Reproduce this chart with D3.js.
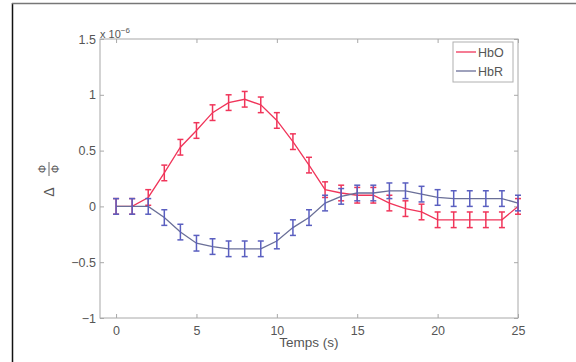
<!DOCTYPE html>
<html><head><meta charset="utf-8">
<script src="https://cdn.jsdelivr.net/npm/d3@7"></script>
<style>body{margin:0;background:#fff}svg{display:block}text{font-family:"Liberation Sans",Arial,sans-serif}</style>
</head><body><svg id="c" width="576" height="362"></svg>
<script>
const times = d3.range(0, 26);
const hbo = [0,0,0.08,0.30,0.53,0.68,0.84,0.93,0.96,0.91,0.77,0.58,0.37,0.15,0.12,0.10,0.10,0.03,-0.02,-0.05,-0.12,-0.12,-0.12,-0.12,-0.12,0.0];
const hbr = [0,0,0,-0.10,-0.23,-0.33,-0.36,-0.38,-0.38,-0.38,-0.31,-0.19,-0.10,0.03,0.09,0.12,0.12,0.14,0.14,0.11,0.08,0.07,0.07,0.07,0.07,0.03];
const errHbo = 0.07, errHbr = 0.07;
const xTicks = [0,5,10,15,20,25];
const yTicks = [-1,-0.5,0,0.5,1,1.5];
const yTickLabels = ["\u22121","\u22120.5","0","0.5","1","1.5"];
const seriesNames = ["HbO","HbR"];
const colors = ["#f0355a","#5a5fc0"];
const lineColors = ["#f0355a","#6a6f98"];

const svg = d3.select("#c");
svg.append("line").attr("x1",12.5).attr("x2",12.5).attr("y1",3).attr("y2",362).attr("stroke","#111").attr("stroke-width",1.5);
svg.append("line").attr("x1",12).attr("x2",576).attr("y1",3.5).attr("y2",3.5).attr("stroke","#777").attr("stroke-width",1.5);

const L=100, R=518, T=39, B=318;
const x = d3.scaleLinear().domain([-1,25]).range([L,R]);
const y = d3.scaleLinear().domain([-1,1.5]).range([B,T]);

const axc="#a8a8a8";
svg.append("rect").attr("x",L).attr("y",T).attr("width",R-L).attr("height",B-T).attr("fill","none").attr("stroke",axc).attr("stroke-width",1);

const fs = 12.5;
const xa = svg.append("g").attr("transform",`translate(0,${B})`)
  .call(d3.axisBottom(x).tickValues(xTicks).tickSize(-4).tickPadding(8).tickFormat(d3.format("d")));
const ya = svg.append("g").attr("transform",`translate(${L},0)`)
  .call(d3.axisLeft(y).tickValues(yTicks).tickSize(-4).tickPadding(4).tickFormat((d,i)=>yTickLabels[i]));
[xa,ya].forEach(a=>{
  a.select(".domain").remove();
  a.selectAll(".tick line").attr("stroke",axc);
  a.selectAll(".tick text").attr("fill","#555").attr("font-size",fs);
});
svg.append("g").attr("transform",`translate(0,${T})`)
  .call(d3.axisTop(x).tickValues(xTicks).tickSize(-4).tickFormat(""))
  .call(g=>{g.select(".domain").remove();g.selectAll("line").attr("stroke",axc);});
svg.append("g").attr("transform",`translate(${R},0)`)
  .call(d3.axisRight(y).tickValues(yTicks).tickSize(-4).tickFormat(""))
  .call(g=>{g.select(".domain").remove();g.selectAll("line").attr("stroke",axc);});

const ex = svg.append("text").attr("x",100).attr("y",38).attr("fill","#555").attr("font-size",11);
ex.append("tspan").text("x 10");
ex.append("tspan").attr("dy",-5).attr("font-size",8).text("\u22126");

svg.append("text").attr("x",309).attr("y",347).attr("text-anchor","middle").attr("fill","#555").attr("font-size",13.5).text("Temps (s)");
const yl = svg.append("g").attr("transform","translate(49,178) rotate(-90)");
yl.append("text").attr("x",-14).attr("y",5).attr("text-anchor","middle").attr("fill","#555").attr("font-size",14).text("\u0394");
yl.append("text").attr("x",9).attr("y",-3).attr("text-anchor","middle").attr("fill","#555").attr("font-size",10).text("\u03A6");
yl.append("line").attr("x1",2).attr("x2",16).attr("y1",0).attr("y2",0).attr("stroke","#666");
yl.append("text").attr("x",9).attr("y",10).attr("text-anchor","middle").attr("fill","#555").attr("font-size",10).text("\u03A6");

const line = d3.line().x((d,i)=>x(times[i])).y(d=>y(d));
[[hbo,errHbo],[hbr,errHbr]].forEach(([vals,err],k)=>{
  svg.append("path").datum(vals).attr("d",line).attr("fill","none").attr("stroke",lineColors[k]).attr("stroke-width",1.3);
  const g = svg.append("g").attr("stroke",colors[k]).attr("stroke-width",1.5);
  vals.forEach((v,i)=>{
    const cx=x(times[i]);
    g.append("line").attr("x1",cx).attr("x2",cx).attr("y1",y(v-err)).attr("y2",y(v+err));
    g.append("line").attr("x1",cx-3).attr("x2",cx+3).attr("y1",y(v-err)).attr("y2",y(v-err));
    g.append("line").attr("x1",cx-3).attr("x2",cx+3).attr("y1",y(v+err)).attr("y2",y(v+err));
  });
});

const lg = svg.append("g");
lg.append("rect").attr("x",453).attr("y",42).attr("width",60).attr("height",40).attr("fill","#fff").attr("stroke","#b0b0b0");
seriesNames.forEach((n,i)=>{
  const yy = 52 + i*19;
  lg.append("line").attr("x1",456).attr("x2",476).attr("y1",yy).attr("y2",yy).attr("stroke",lineColors[i]).attr("stroke-width",1.3);
  lg.append("text").attr("x",478).attr("y",yy+4.5).attr("fill","#555").attr("font-size",12.5).text(n);
});
</script></body></html>
